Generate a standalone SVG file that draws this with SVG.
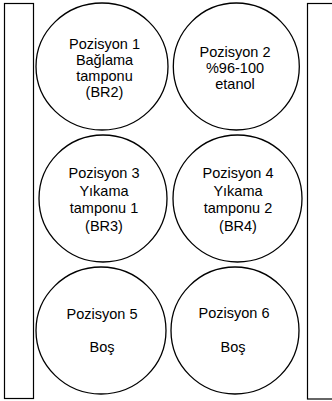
<svg xmlns="http://www.w3.org/2000/svg" width="332" height="401" viewBox="0 0 332 401">
<style>
.bar{fill:#fff;stroke:#000;stroke-width:1.2}
.pos{fill:#fff;stroke:#000;stroke-width:1.3}
text{font-family:"Liberation Sans",Arial,sans-serif;font-size:14.5px;fill:#000;text-anchor:middle}
</style>
<rect width="332" height="401" fill="#fff"/>
<g id="rail-left"><rect class="bar" x="4.5" y="3.5" width="29" height="395"/></g>
<g id="rail-right"><rect class="bar" x="307.5" y="3.5" width="40" height="395.5"/></g>
<g id="connectors"></g>
<g id="pos1">
<ellipse class="pos" cx="102" cy="66.5" rx="66" ry="63.5"/>
<text x="104.5" y="49">Pozisyon 1</text>
<text x="104.5" y="65">Bağlama</text>
<text x="104.5" y="81">tamponu</text>
<text x="104.5" y="97">(BR2)</text>
</g>
<g id="pos2">
<ellipse class="pos" cx="236.3" cy="66.5" rx="63" ry="63.5"/>
<text x="235" y="57">Pozisyon 2</text>
<text x="235" y="73">%96-100</text>
<text x="235" y="89">etanol</text>
</g>
<g id="pos3">
<ellipse class="pos" cx="103" cy="198.5" rx="64" ry="63.5"/>
<text x="104" y="178">Pozisyon 3</text>
<text x="104" y="195.5">Yıkama</text>
<text x="104" y="213">tamponu 1</text>
<text x="104" y="230.5">(BR3)</text>
</g>
<g id="pos4">
<ellipse class="pos" cx="237.5" cy="198.5" rx="64.5" ry="63.5"/>
<text x="238" y="178">Pozisyon 4</text>
<text x="238" y="195.5">Yıkama</text>
<text x="238" y="213">tamponu 2</text>
<text x="238" y="230.5">(BR4)</text>
</g>
<g id="pos5">
<ellipse class="pos" cx="101" cy="330.5" rx="65" ry="63.5"/>
<text x="102" y="319">Pozisyon 5</text>
<text x="102" y="352">Boş</text>
</g>
<g id="pos6">
<ellipse class="pos" cx="235" cy="330.5" rx="64" ry="63.5"/>
<text x="234" y="318">Pozisyon 6</text>
<text x="233" y="352">Boş</text>
</g>
</svg>
